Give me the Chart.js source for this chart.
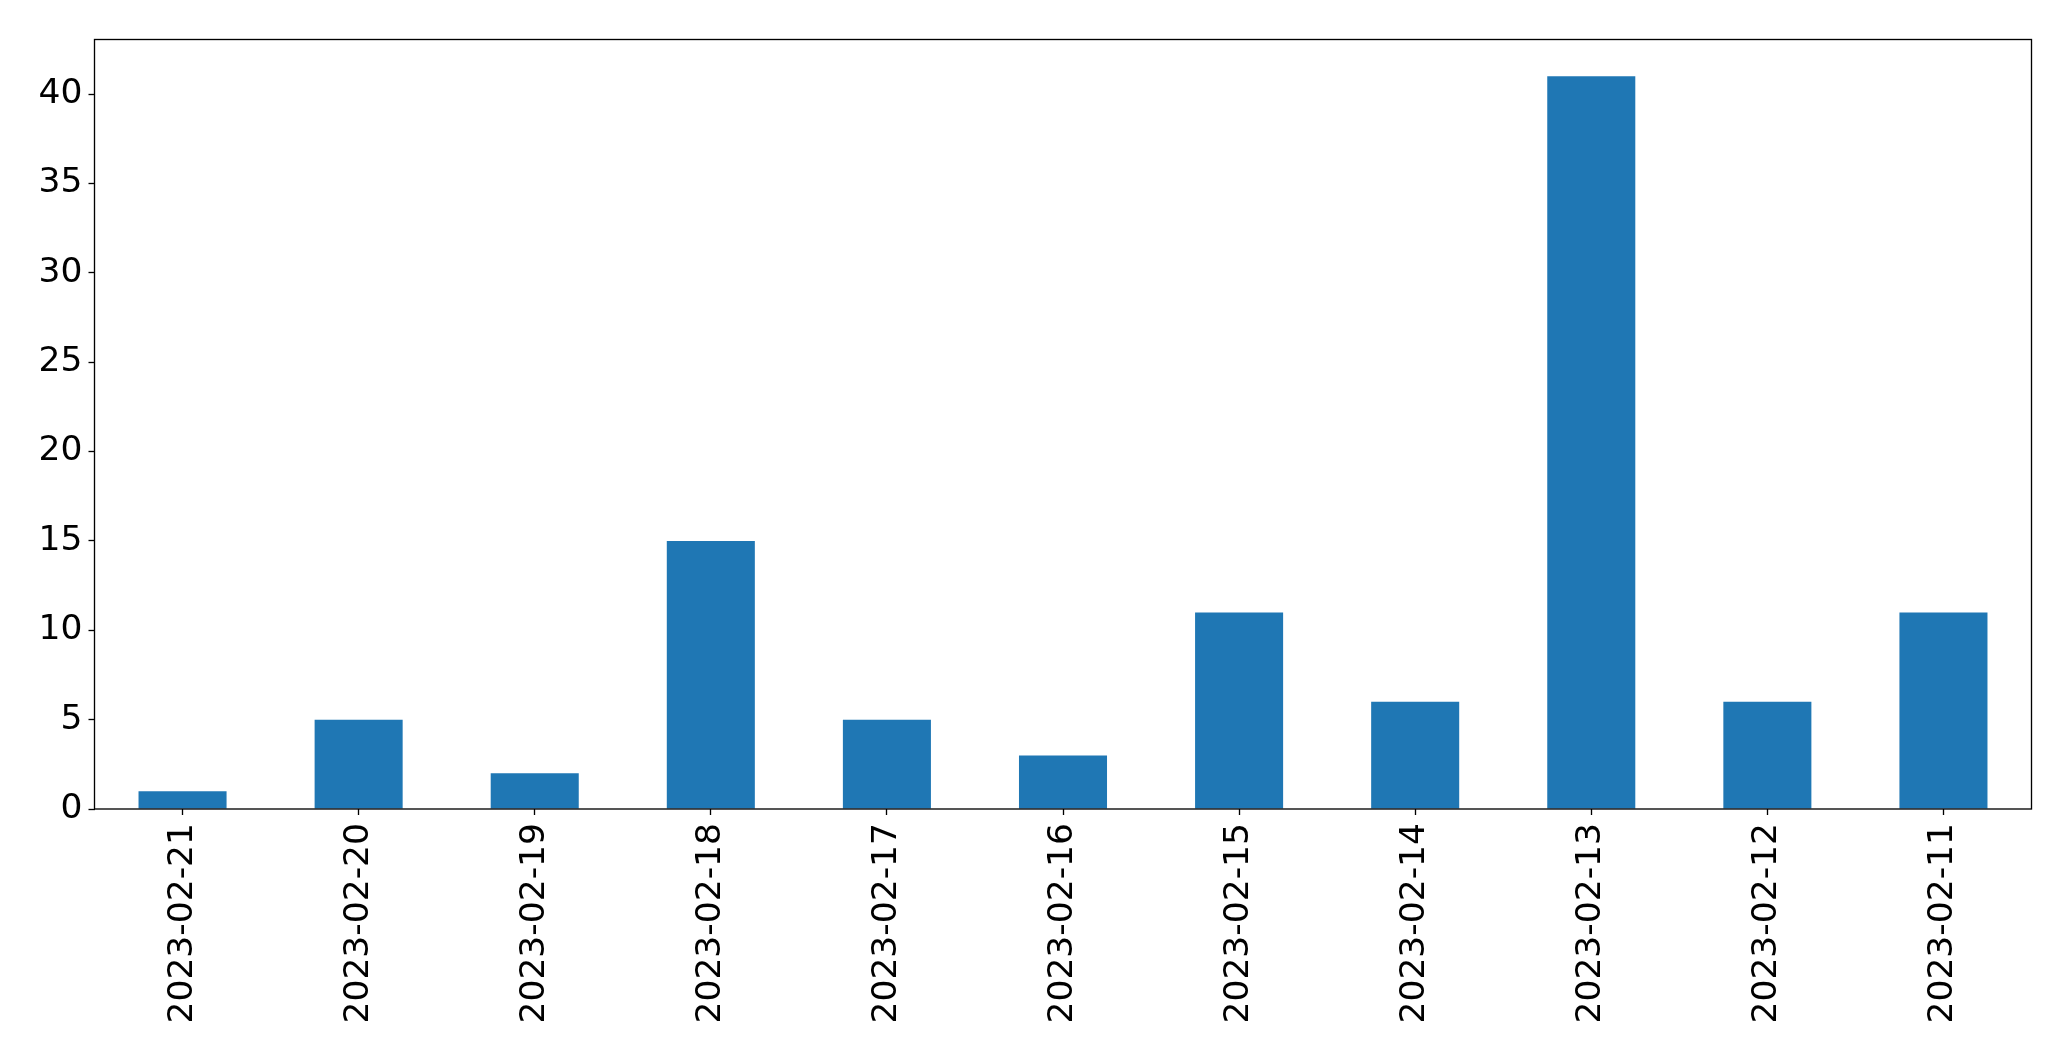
<!DOCTYPE html>
<html>
<head>
<meta charset="utf-8">
<script src="https://cdn.jsdelivr.net/npm/chart.js@4"></script>
<style>
  html, body { margin: 0; padding: 0; background: #fff; }
  #wrap { width: 2071px; height: 1061px; }
</style>
</head>
<body>
<div id="wrap"><canvas id="chart" width="2071" height="1061"></canvas></div>
<script>
// datos
const fechas = ['2023-02-21', '2023-02-20', '2023-02-19', '2023-02-18', '2023-02-17', '2023-02-16',
  '2023-02-15', '2023-02-14', '2023-02-13', '2023-02-12', '2023-02-11']
const cantidades = [1, 5, 2, 15, 5, 3, 11, 6, 41, 6, 11]
const yTicks = [0, 5, 10, 15, 20, 25, 30, 35, 40]

// marco alrededor del area del grafico
const marco = {
  id: 'marco',
  afterDraw(chart) {
    const { ctx, chartArea: a } = chart
    ctx.save()
    ctx.strokeStyle = '#000'
    ctx.lineWidth = 1.33
    ctx.strokeRect(a.left, a.top, a.right - a.left, a.bottom - a.top)
    ctx.restore()
  }
}

const fuente = { family: 'DejaVu Sans', size: 34.5 }

new Chart(document.getElementById('chart').getContext('2d'), {
  type: 'bar',
  data: {
    labels: fechas,
    datasets: [{
      data: cantidades,
      backgroundColor: '#1f77b4',
      borderWidth: 0,
      barPercentage: 0.5,
      categoryPercentage: 1
    }]
  },
  options: {
    responsive: false,
    animation: false,
    devicePixelRatio: 1,
    layout: { padding: { top: 39.5, right: 39.5, left: 0, bottom: 0 } },
    plugins: { legend: { display: false }, tooltip: { enabled: false } },
    scales: {
      x: {
        offset: true,
        grid: { display: true, offset: false, drawOnChartArea: false, drawTicks: true, tickLength: 6, tickColor: '#000', tickWidth: 1.33 },
        border: { display: false },
        ticks: { color: '#000', font: fuente, minRotation: 90, maxRotation: 90, padding: 8, autoSkip: false },
        afterFit(scale) { scale.height = 1061 - 809 }
      },
      y: {
        min: 0,
        max: 43.05,
        grid: { display: true, drawOnChartArea: false, drawTicks: true, tickLength: 6, tickColor: '#000', tickWidth: 1.33 },
        border: { display: false },
        ticks: { color: '#000', font: fuente, padding: 6 },
        afterBuildTicks(scale) { scale.ticks = yTicks.map(v => ({ value: v })) },
        afterFit(scale) { scale.width = 94.5 }
      }
    }
  },
  plugins: [marco]
})
</script>
</body>
</html>
